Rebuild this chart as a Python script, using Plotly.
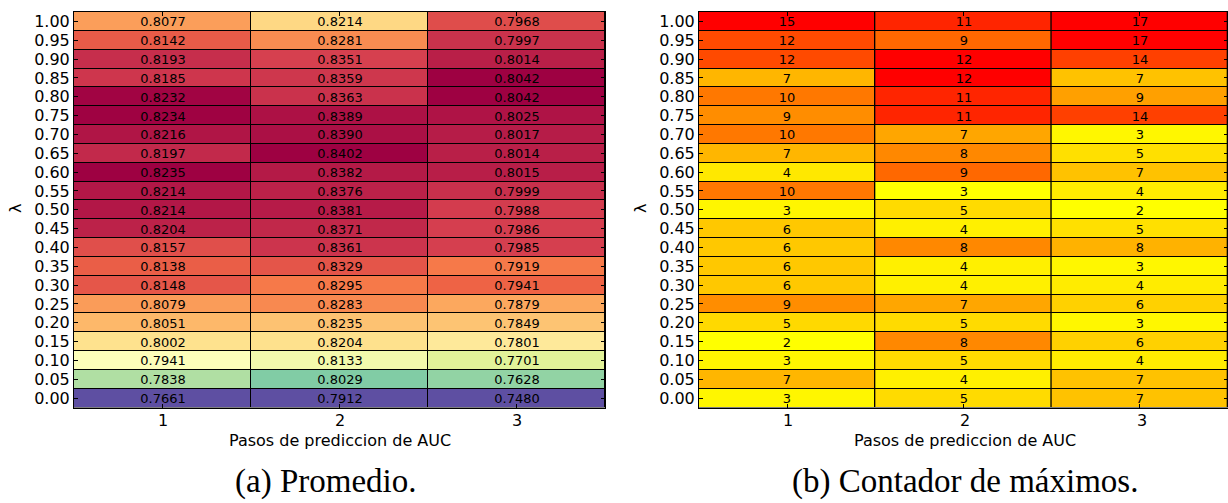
import plotly.graph_objects as go
import plotly.colors as pc

# lambda values, listed from top row (1.00) to bottom row (0.00)
lambdas = [1.00, 0.95, 0.90, 0.85, 0.80, 0.75, 0.70, 0.65, 0.60, 0.55, 0.50,
           0.45, 0.40, 0.35, 0.30, 0.25, 0.20, 0.15, 0.10, 0.05, 0.00]
lambda_labels = [f"{v:.2f}" for v in lambdas]
steps = [1, 2, 3]

# (a) mean AUC per prediction step
avg_step1 = [0.8077, 0.8142, 0.8193, 0.8185, 0.8232, 0.8234, 0.8216, 0.8197, 0.8235, 0.8214, 0.8214,
             0.8204, 0.8157, 0.8138, 0.8148, 0.8079, 0.8051, 0.8002, 0.7941, 0.7838, 0.7661]
avg_step2 = [0.8214, 0.8281, 0.8351, 0.8359, 0.8363, 0.8389, 0.8390, 0.8402, 0.8382, 0.8376, 0.8381,
             0.8371, 0.8361, 0.8329, 0.8295, 0.8283, 0.8235, 0.8204, 0.8133, 0.8029, 0.7912]
avg_step3 = [0.7968, 0.7997, 0.8014, 0.8042, 0.8042, 0.8025, 0.8017, 0.8014, 0.8015, 0.7999, 0.7988,
             0.7986, 0.7985, 0.7919, 0.7941, 0.7879, 0.7849, 0.7801, 0.7701, 0.7628, 0.7480]

# (b) how many times each lambda gave the maximum
max_step1 = [15, 12, 12, 7, 10, 9, 10, 7, 4, 10, 3, 6, 6, 6, 6, 9, 5, 2, 3, 7, 3]
max_step2 = [11, 9, 12, 12, 11, 11, 7, 8, 9, 3, 5, 4, 8, 4, 4, 7, 5, 8, 5, 4, 5]
max_step3 = [17, 17, 14, 7, 9, 14, 3, 5, 7, 4, 2, 5, 8, 3, 4, 6, 3, 6, 4, 7, 7]

W, H = 1228, 503

# colour scales
spectral_r = list(reversed(pc.diverging.Spectral))
n = len(spectral_r) - 1
spectral_scale = [[i / n, c] for i, c in enumerate(spectral_r)]
autumn_scale = []
for i in range(41):
    p = i / 40
    g = round(255 * (1 - p ** 1.3))
    autumn_scale.append([p, f"rgb(255,{g},0)"])

fig = go.Figure()

def add_column(step, values, xa, ya, scale, tmpl):
    fig.add_trace(go.Heatmap(
        x=[step], y=lambdas[::-1], z=[[v] for v in values[::-1]],
        colorscale=scale, showscale=False, xgap=1, ygap=1,
        texttemplate=tmpl, textfont=dict(family="DejaVu Sans", size=13, color="black"),
        xaxis=xa, yaxis=ya, hoverinfo="skip",
    ))

for s, col in zip(steps, [avg_step1, avg_step2, avg_step3]):
    add_column(s, col, "x", "y", spectral_scale, "%{z:.4f}")
for s, col in zip(steps, [max_step1, max_step2, max_step3]):
    add_column(s, col, "x2", "y2", autumn_scale, "%{z}")

y_dom = [1 - 407.5 / H, 1 - 12 / H]
axis_common = dict(showline=True, linecolor="black", linewidth=1, mirror="ticks",
                   ticks="inside", ticklen=4, tickcolor="black", showgrid=False,
                   zeroline=False, tickfont=dict(family="DejaVu Sans", size=16, color="black"))

fig.update_layout(
    width=W, height=H, margin=dict(l=0, r=0, t=0, b=0),
    paper_bgcolor="white", plot_bgcolor="black", showlegend=False,
    xaxis=dict(domain=[74 / W, 605 / W], anchor="y", range=[0.5, 3.5],
               tickvals=steps, showticklabels=False, **axis_common),
    yaxis=dict(domain=y_dom, anchor="x", range=[-0.025, 1.025],
               tickvals=lambdas, ticktext=lambda_labels, **axis_common),
    xaxis2=dict(domain=[699 / W, 1.0], anchor="y2", range=[0.5, 3.5],
                tickvals=steps, showticklabels=False, **axis_common),
    yaxis2=dict(domain=y_dom, anchor="x2", range=[-0.025, 1.025],
                tickvals=lambdas, ticktext=lambda_labels, **axis_common),
)

ann = []
for left, right, cap_x, cap in [(74, 605, 325, "(a) Promedio."),
                                (699, 1231, 965, "(b) Contador de máximos.")]:
    colw = (right - left) / 3
    for i, s in enumerate(steps):
        ann.append(dict(x=(left + colw * (i + 0.5)) / W, y=1 - 420 / H, xref="paper", yref="paper",
                        text=str(s), showarrow=False, xanchor="center", yanchor="middle",
                        font=dict(family="DejaVu Sans", size=16, color="black")))
    ann.append(dict(x=(left + right) / 2 / W, y=1 - 440 / H, xref="paper", yref="paper",
                    text="Pasos de prediccion de AUC", showarrow=False,
                    xanchor="center", yanchor="middle",
                    font=dict(family="DejaVu Sans", size=16, color="black")))
    ann.append(dict(x=cap_x / W, y=1 - 481 / H, xref="paper", yref="paper",
                    text=cap, showarrow=False, xanchor="center", yanchor="middle",
                    font=dict(family="Liberation Serif", size=33, color="black")))
    ann.append(dict(x=(left - 59) / W, y=1 - 209 / H, xref="paper", yref="paper",
                    text="λ", textangle=-90, showarrow=False, xanchor="center", yanchor="middle",
                    font=dict(family="DejaVu Sans", size=16, color="black")))
fig.update_layout(annotations=ann)

fig.write_html("out.html")
